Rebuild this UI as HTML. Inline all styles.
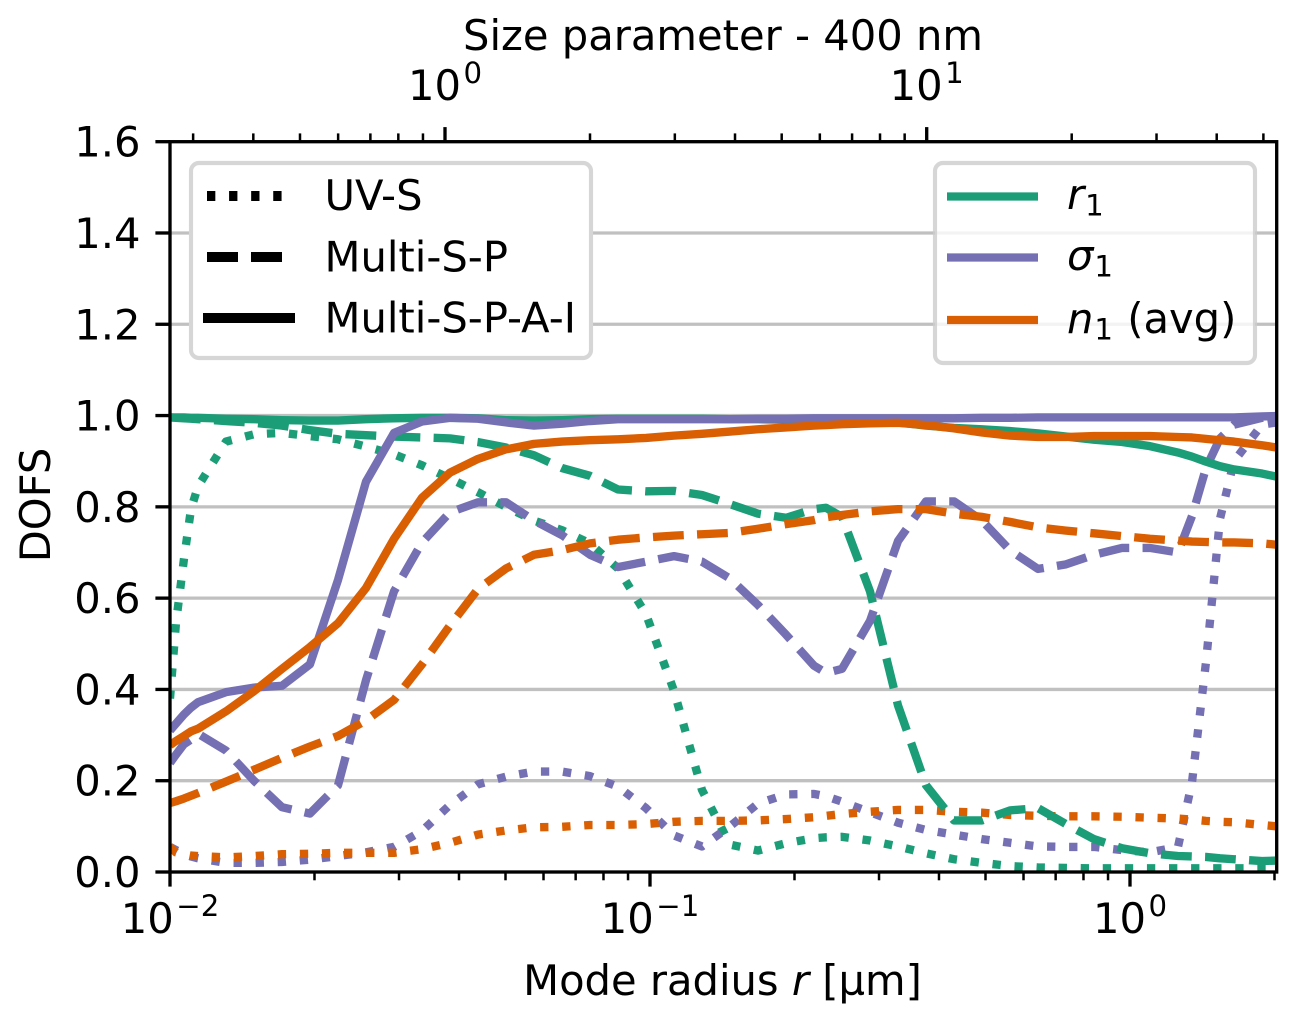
<!DOCTYPE html>
<html lang="en">
<head>
<meta charset="utf-8">
<title>DOFS vs mode radius</title>
<style>
html,body{margin:0;padding:0;background:#fff;}
svg{display:block;font-family:"DejaVu Sans","Liberation Sans",sans-serif;fill:#000;}
</style>
</head>
<body>
<svg id="chart" xmlns="http://www.w3.org/2000/svg" width="1296" height="1022" viewBox="0 0 1296 1022">
  <defs><clipPath id="plot-clip"><rect x="170" y="141.7" width="1106.7" height="730.3"/></clipPath></defs>
  <rect x="0" y="0" width="1296" height="1022" fill="#fff"/>
  <g id="grid"></g>
  <g id="series" clip-path="url(#plot-clip)"></g>
  <g id="ticks"></g>
  <rect x="170" y="141.7" width="1106.7" height="730.3" fill="none" stroke="#000" stroke-width="3.33"/>

  <text x="723" y="50" font-size="41.67" text-anchor="middle">Size parameter - 400 nm</text>
  <text x="722.5" y="995" font-size="41.67" text-anchor="middle">Mode radius <tspan font-style="italic">r</tspan> [µm]</text>
  <text transform="translate(50,505) rotate(-90)" font-size="41.67" text-anchor="middle">DOFS</text>

  <g>
    <rect x="191" y="163" width="400" height="195" rx="8" ry="8" fill="#fff" stroke="#d6d6d6" stroke-width="4.17"/>
    <line x1="207" y1="196" x2="283" y2="196" stroke="#000" stroke-width="10" stroke-dasharray="8.33 13.75"/>
    <text x="324.5" y="210" font-size="41.67">UV-S</text>
    <line x1="207" y1="257" x2="283" y2="257" stroke="#000" stroke-width="10" stroke-dasharray="31 13"/>
    <text x="324.5" y="271.5" font-size="41.67">Multi-S-P</text>
    <line x1="203" y1="318" x2="295" y2="318" stroke="#000" stroke-width="10"/>
    <text x="324.5" y="332.5" font-size="41.67">Multi-S-P-A-I</text>
  </g>

  <g>
    <rect x="935" y="163" width="320" height="200" rx="8" ry="8" fill="#fff" fill-opacity="0.8" stroke="#cccccc" stroke-opacity="0.8" stroke-width="4.17"/>
    <line x1="947" y1="196.5" x2="1038" y2="196.5" stroke="#1b9e77" stroke-width="8.33"/>
    <text x="1067" y="209" font-size="41.67"><tspan font-style="italic">r</tspan><tspan font-size="29.2" dy="6.5" dx="1">1</tspan></text>
    <line x1="947" y1="257.5" x2="1038" y2="257.5" stroke="#7570b3" stroke-width="8.33"/>
    <text x="1067" y="270" font-size="41.67"><tspan font-style="italic">σ</tspan><tspan font-size="29.2" dy="6.5" dx="1">1</tspan></text>
    <line x1="947" y1="320" x2="1038" y2="320" stroke="#d95f02" stroke-width="8.33"/>
    <text x="1067" y="333" font-size="41.67"><tspan font-style="italic">n</tspan><tspan font-size="29.2" dy="6.5" dx="1">1</tspan><tspan dy="-6.5" dx="1"> (avg)</tspan></text>
  </g>
</svg>
<script>
const radii = [0.01000,0.01029,0.01069,0.01106,0.01144,0.01308,0.01496,0.01711,0.01957,0.02239,0.02560,0.02929,0.03350,0.03831,0.04382,0.05012,0.05732,0.06556,0.07499,0.08577,0.09809,0.11220,0.12830,0.14678,0.16788,0.19201,0.21961,0.2326,0.25119,0.28729,0.32859,0.37584,0.42986,0.49164,0.56234,0.64320,0.73564,0.84140,0.96235,1.1007,1.2589,1.3465,1.4399,1.5400,1.6469,1.8836,2.0200];

const uvR = [.38,.545,.685,.795,.845,.943,.959,.962,.955,.948,.932,.915,.891,.862,.832,.80,.77,.749,.72,.665,.565,.397,.18,.06,.047,.063,.074,.076,.077,.069,.056,.041,.028,.02,.013,.01,.009,.008,.008,.008,.008,.008,.008,.008,.008,.008,.008];
const uvSigma = [.055,.048,.04,.034,.03,.02,.02,.022,.027,.035,.043,.055,.09,.147,.192,.209,.22,.22,.21,.187,.14,.08,.056,.10,.15,.17,.171,.166,.154,.131,.108,.092,.082,.072,.064,.056,.055,.055,.048,.043,.055,.197,.46,.774,.90,.98,.985];
const uvN = [.055,.043,.039,.036,.035,.032,.035,.039,.04,.042,.042,.042,.05,.064,.082,.091,.098,.099,.103,.103,.105,.11,.112,.112,.113,.116,.12,.123,.127,.132,.136,.136,.132,.13,.125,.123,.122,.122,.121,.119,.117,.115,.112,.11,.109,.103,.10];

const multiR = [.996,.995,.994,.993,.992,.988,.984,.978,.968,.96,.957,.954,.952,.95,.942,.93,.913,.885,.868,.838,.834,.835,.826,.806,.785,.776,.795,.798,.778,.615,.365,.19,.113,.113,.135,.14,.105,.072,.052,.041,.035,.034,.033,.03,.028,.024,.025];
const multiSigma = [.239,.257,.28,.29,.303,.266,.20,.142,.128,.19,.42,.615,.722,.788,.81,.81,.77,.738,.695,.668,.68,.692,.68,.643,.585,.52,.452,.436,.445,.55,.725,.812,.812,.77,.705,.664,.674,.695,.71,.71,.70,.78,.885,.95,.98,.995,.999];
const multiN = [.151,.155,.161,.167,.173,.198,.224,.25,.275,.298,.332,.377,.455,.54,.62,.665,.695,.705,.72,.728,.733,.737,.74,.743,.752,.762,.771,.777,.782,.79,.795,.795,.785,.778,.767,.755,.748,.742,.736,.73,.726,.724,.723,.722,.722,.72,.717];

const fullR = [.996,.996,.996,.995,.995,.993,.992,.990,.989,.989,.992,.994,.995,.995,.994,.990,.989,.990,.992,.993,.993,.993,.993,.992,.992,.991,.991,.991,.991,.989,.985,.978,.973,.970,.966,.961,.954,.947,.942,.933,.919,.910,.899,.889,.882,.873,.866];
const fullSigma = [.31,.325,.345,.36,.372,.394,.404,.408,.455,.64,.855,.962,.987,.995,.993,.985,.978,.982,.988,.992,.992,.992,.992,.992,.993,.993,.994,.994,.994,.994,.994,.994,.994,.995,.995,.996,.996,.996,.996,.996,.996,.996,.996,.996,.996,.998,.999];
const fullN = [.278,.287,.298,.308,.314,.352,.396,.445,.493,.545,.622,.73,.82,.875,.905,.926,.938,.943,.946,.948,.951,.956,.960,.965,.970,.974,.978,.979,.981,.983,.984,.979,.972,.963,.956,.953,.953,.955,.955,.955,.953,.952,.949,.946,.943,.935,.930];

const yTickValues = [0,0.2,0.4,0.6,0.8,1.0,1.2,1.4,1.6];
const yTickLabels = ['0.0','0.2','0.4','0.6','0.8','1.0','1.2','1.4','1.6'];
const xMajorTicks = [0.01,0.1,1];
const xTickExponents = ['\u22122','\u22121','0'];
const xMinorTicks = [0.02,0.03,0.04,0.05,0.06,0.07,0.08,0.09,0.2,0.3,0.4,0.5,0.6,0.7,0.8,0.9,2];
const topMajorTicks = [1,10];
const topTickExponents = ['0','1'];
const topMinorTicks = [0.3,0.4,0.5,0.6,0.7,0.8,0.9,2,3,4,5,6,7,8,9,20,30,40,50];

const NS = 'http://www.w3.org/2000/svg';
const GREEN = '#1b9e77', VIOLET = '#7570b3', ORANGE = '#d95f02';
const DOTTED = '8.33 13.75', DASHED = '30.8 13.3', SOLID = 'none';

function xScale(r){ return 170 + 480 * (Math.log10(r) + 2); }
function topScale(s){ return 445 + 481.7 * Math.log10(s); }
function yScale(v){ return 872 - 456.44 * v; }
function make(tag, attrs){
  const el = document.createElementNS(NS, tag);
  for (const k in attrs) el.setAttribute(k, attrs[k]);
  return el;
}

const gridGroup = document.getElementById('grid');
const tickGroup = document.getElementById('ticks');
const seriesGroup = document.getElementById('series');
const svgRoot = document.getElementById('chart');

yTickValues.forEach(function(v, i){
  const y = yScale(v);
  if (v > 0 && v < 1.6) {
    const g = make('line', {x1:170, x2:1276.7, y1:y, y2:y, stroke:'#c0c0c0', 'stroke-width':3.3});
    
    
    gridGroup.appendChild(g);
  }
  const t = make('line', {x1:155.4, x2:170, y1:y, y2:y, stroke:'#000', 'stroke-width':3.33});
  
  
  tickGroup.appendChild(t);
  const lab = make('text', {x:140.5, y:y + 15, 'font-size':41.67, 'text-anchor':'end'});
  
  
  lab.textContent = yTickLabels[i];
  svgRoot.appendChild(lab);
});

function powerLabel(x, baseline, exponent, name){
  const lab = make('text', {x:x, y:baseline, 'font-size':41.67, 'text-anchor':'middle'});
  
  
  lab.appendChild(document.createTextNode('10'));
  const sup = make('tspan', {'font-size':29.2, dy:-17, dx:2.5});
  sup.textContent = exponent;
  lab.appendChild(sup);
  svgRoot.appendChild(lab);
}

xMajorTicks.forEach(function(r, i){
  const x = xScale(r);
  const t = make('line', {x1:x, x2:x, y1:872, y2:886.6, stroke:'#000', 'stroke-width':3.33});
  
  
  tickGroup.appendChild(t);
  powerLabel(x, 933, xTickExponents[i], 'x-tick-label');
});
xMinorTicks.forEach(function(r){
  const x = xScale(r);
  const t = make('line', {x1:x, x2:x, y1:872, y2:880.3, stroke:'#000', 'stroke-width':2.5});
  
  
  tickGroup.appendChild(t);
});
topMajorTicks.forEach(function(s, i){
  const x = topScale(s);
  const t = make('line', {x1:x, x2:x, y1:127.1, y2:141.7, stroke:'#000', 'stroke-width':3.33});
  
  
  tickGroup.appendChild(t);
  powerLabel(x, 100, topTickExponents[i], 'top-tick-label');
});
topMinorTicks.forEach(function(s){
  const x = topScale(s);
  const t = make('line', {x1:x, x2:x, y1:133.4, y2:141.7, stroke:'#000', 'stroke-width':2.5});
  
  
  tickGroup.appendChild(t);
});

function drawSeries(values, color, dash, name){
  const d = values.map(function(v, i){
    return (i ? 'L' : 'M') + xScale(radii[i]).toFixed(2) + ' ' + yScale(v).toFixed(2);
  }).join(' ');
  const p = make('path', {d:d, fill:'none', stroke:color, 'stroke-width':8.33, 'stroke-linejoin':'round', 'stroke-dasharray':dash});
  
  
  seriesGroup.appendChild(p);
}

drawSeries(uvR, GREEN, DOTTED, 'uv-s-r1-line');
drawSeries(uvSigma, VIOLET, DOTTED, 'uv-s-sigma1-line');
drawSeries(uvN, ORANGE, DOTTED, 'uv-s-n1-line');
drawSeries(multiR, GREEN, DASHED, 'multi-s-p-r1-line');
drawSeries(multiSigma, VIOLET, DASHED, 'multi-s-p-sigma1-line');
drawSeries(multiN, ORANGE, DASHED, 'multi-s-p-n1-line');
drawSeries(fullR, GREEN, SOLID, 'multi-s-p-a-i-r1-line');
drawSeries(fullSigma, VIOLET, SOLID, 'multi-s-p-a-i-sigma1-line');
drawSeries(fullN, ORANGE, SOLID, 'multi-s-p-a-i-n1-line');
</script>
</body>
</html>
